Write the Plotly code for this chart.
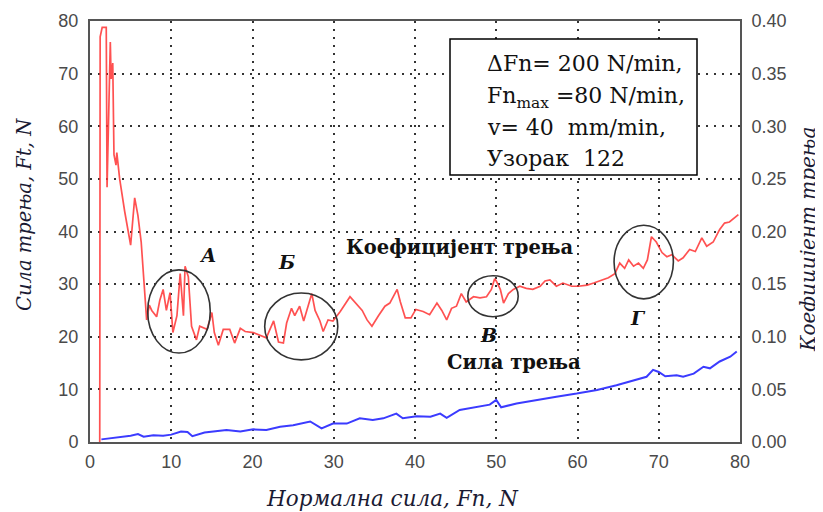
import plotly.graph_objects as go

# ---- data ----
red_x = [1.2, 1.25, 1.5, 2.0, 2.1, 2.3, 2.5, 2.6, 2.8, 2.95, 3.2, 3.3, 3.65, 4.27, 5.0, 5.5, 5.9, 6.3,
         6.7, 6.97, 7.3, 7.6, 8.2, 8.6, 9.0, 9.4, 9.85, 10.2, 10.7, 11.1, 11.5, 11.7, 12.1, 12.5, 13.1,
         13.5, 14.4, 15.0, 15.3, 15.8, 16.4, 17.2, 17.8, 18.5, 19.1, 20.1, 21.7, 22.6, 23.2, 23.8, 24.2,
         24.8, 25.2, 25.8, 26.3, 26.9, 27.3, 27.7, 28.3, 28.7, 29.3, 29.9, 30.8, 32.0, 32.6, 33.5, 34.1,
         34.7, 35.5, 36.3, 36.9, 37.3, 37.8, 38.2, 38.8, 39.5, 40.1, 41.0, 41.8, 42.7, 43.3, 43.9, 44.5,
         45.1, 45.7, 46.3, 47.2, 48.0, 48.8, 49.4, 49.8, 50.0, 50.5, 50.9, 51.5, 52.1, 52.9, 53.7, 54.5,
         55.4, 56.0, 56.6, 57.4, 58.2, 59.3, 60.1, 61.2, 62.0, 63.0, 63.8, 64.6, 65.2, 65.8, 66.3, 66.9,
         67.5, 68.1, 68.6, 69.1, 69.7, 70.4, 71.0, 71.6, 72.4, 73.0, 73.8, 74.5, 75.3, 75.9, 76.7, 77.5,
         78.1, 78.7, 79.4, 79.8]
red_coef = [0.0, 0.385, 0.394, 0.394, 0.242, 0.325, 0.380, 0.345, 0.360, 0.273, 0.263, 0.275, 0.250,
            0.219, 0.187, 0.232, 0.215, 0.190, 0.143, 0.116, 0.130, 0.125, 0.119, 0.135, 0.145, 0.125,
            0.142, 0.104, 0.120, 0.160, 0.120, 0.167, 0.157, 0.110, 0.097, 0.110, 0.107, 0.123, 0.104,
            0.092, 0.107, 0.107, 0.094, 0.108, 0.105, 0.104, 0.099, 0.115, 0.095, 0.094, 0.113, 0.127,
            0.120, 0.129, 0.115, 0.132, 0.141, 0.125, 0.115, 0.105, 0.116, 0.115, 0.124, 0.138, 0.133,
            0.125, 0.116, 0.110, 0.120, 0.129, 0.132, 0.138, 0.145, 0.133, 0.118, 0.118, 0.126, 0.124,
            0.121, 0.132, 0.125, 0.116, 0.127, 0.129, 0.141, 0.133, 0.138, 0.137, 0.138, 0.145, 0.155,
            0.153, 0.145, 0.132, 0.141, 0.145, 0.148, 0.146, 0.145, 0.148, 0.153, 0.154, 0.148, 0.151,
            0.148, 0.148, 0.149, 0.151, 0.154, 0.156, 0.160, 0.170, 0.165, 0.173, 0.167, 0.170, 0.165,
            0.173, 0.195, 0.190, 0.180, 0.176, 0.178, 0.172, 0.175, 0.183, 0.181, 0.194, 0.186, 0.190,
            0.202, 0.208, 0.209, 0.214, 0.216]

blue_x = [1.4, 2.5, 3.9, 5.0, 5.9, 6.6, 7.8, 9.0, 10.0, 11.2, 12.0, 12.6, 14.1, 15.5, 16.8, 18.5, 20.1,
          21.7, 23.4, 25.0, 27.1, 28.5, 29.9, 31.6, 33.2, 34.8, 36.1, 37.7, 38.5, 40.2, 41.9, 43.1, 43.9,
          45.5, 47.6, 49.2, 50.0, 50.6, 52.5, 54.9, 57.4, 59.9, 62.4, 64.8, 67.3, 68.5, 69.3, 70.0, 70.8,
          72.2, 73.0, 74.3, 75.5, 76.3, 77.5, 78.8, 79.6]
blue_ft = [0.5, 0.7, 0.9, 1.2, 1.5, 1.0, 1.3, 1.2, 1.4, 2.0, 1.9, 1.1, 1.8, 2.0, 2.3, 2.0, 2.4, 2.3, 2.9,
           3.2, 3.9, 2.6, 3.5, 3.5, 4.5, 4.2, 4.5, 5.4, 4.5, 4.9, 4.8, 5.4, 4.6, 6.1, 6.6, 7.1, 8.0, 6.6,
           7.3, 8.0, 8.6, 9.2, 9.9, 10.8, 11.8, 12.4, 13.7, 13.3, 12.5, 12.7, 12.4, 13.0, 14.3, 14.0, 15.3,
           16.2, 17.2]

x_ticks = [0, 10, 20, 30, 40, 50, 60, 70, 80]
y_ticks = [0, 10, 20, 30, 40, 50, 60, 70, 80]
y2_ticks = [0.0, 0.05, 0.10, 0.15, 0.20, 0.25, 0.30, 0.35, 0.40]

# annotation ellipses: (x0, x1, y0, y1) in data units (left axis)
ellipses = [(7.1, 14.8, 16.9, 32.7), (21.5, 30.5, 15.6, 28.3), (46.5, 52.7, 23.8, 31.6), (64.5, 71.8, 27.2, 41.2)]
region_labels = ["А", "Б", "В", "Г"]
region_label_pos = [(14.4, 35.5), (24.2, 34.2), (49.0, 20.3), (67.4, 23.6)]

info_lines = ["ΔFn= 200 N/min,", "Fn<sub>max</sub> =80 N/min,", "v= 40  mm/min,", "Узорак  122"]

# page body has an 8px default margin: figure is sized so the plot area lands at x 90..740, y 21..442
W, H = 815, 504
ML, MR, MT, MB = 82, 83, 13, 70
PW, PH = W - ML - MR, H - MT - MB


def px_to_paper(px, py):
    # px, py are window pixel positions
    return (px - 8 - ML) / PW, (H - MB - (py - 8)) / PH


fig = go.Figure()
fig.add_trace(go.Scatter(x=blue_x, y=blue_ft, mode="lines", line=dict(color="#3b3bff", width=2),
                         showlegend=False, yaxis="y"))
fig.add_trace(go.Scatter(x=red_x, y=red_coef, mode="lines", line=dict(color="rgba(255,50,50,0.85)", width=1.7),
                         showlegend=False, yaxis="y2"))

tickfont = dict(family="Liberation Sans, Arial", size=18, color="#4a4a4a")
grid_common = dict(showgrid=True, gridcolor="#333333", gridwidth=2, griddash="2px,6px")

shapes = []
for (x0, x1, y0, y1) in ellipses:
    shapes.append(dict(type="circle", xref="x", yref="y", x0=x0, x1=x1, y0=y0, y1=y1,
                       line=dict(color="#333333", width=1.6)))
bx0, by0 = px_to_paper(450, 175)
bx1, by1 = px_to_paper(697, 39)
shapes.append(dict(type="rect", xref="paper", yref="paper", x0=bx0, x1=bx1, y0=by0, y1=by1,
                   line=dict(color="black", width=1.5), fillcolor="white", layer="above"))

annotations = []
for lab, (lx, ly) in zip(region_labels, region_label_pos):
    annotations.append(dict(x=lx, y=ly, xref="x", yref="y", text="<b><i>%s</i></b>" % lab, showarrow=False,
                            font=dict(family="DejaVu Serif", size=19, color="#111111")))
annotations.append(dict(x=45.5, y=37.0, xref="x", yref="y", text="<b>Коефицијент трења</b>", showarrow=False,
                        font=dict(family="DejaVu Serif", size=19.5, color="#111111")))
annotations.append(dict(x=52.2, y=15.2, xref="x", yref="y", text="<b>Сила трења</b>", showarrow=False,
                        font=dict(family="DejaVu Serif", size=19.5, color="#111111")))
line_px = [63, 97, 128, 158]
for t, py in zip(info_lines, line_px):
    ax, ay = px_to_paper(485, py)
    annotations.append(dict(x=ax, y=ay, xref="paper", yref="paper", text=t, showarrow=False,
                            xanchor="left", yanchor="middle",
                            font=dict(family="DejaVu Serif", size=22, color="#111111")))

label_font = dict(family="DejaVu Serif", size=19.5, color="#1a1a33")
lx, ly = px_to_paper(24, 215)
annotations.append(dict(x=lx, y=ly, xref="paper", yref="paper", text="<i>Сила трења, Ft, N</i>",
                        textangle=-90, showarrow=False, xanchor="center", yanchor="middle", font=label_font))
rx, ry = px_to_paper(808, 240)
annotations.append(dict(x=rx, y=ry, xref="paper", yref="paper", text="<i>Коефицијент трења</i>",
                        textangle=-90, showarrow=False, xanchor="center", yanchor="middle",
                        font=dict(family="DejaVu Serif", size=20, color="#1a1a33")))
tx, ty = px_to_paper(392, 498)
annotations.append(dict(x=tx, y=ty, xref="paper", yref="paper", text="<i>Нормална сила, Fn, N</i>",
                        showarrow=False, xanchor="center", yanchor="middle",
                        font=dict(family="DejaVu Serif", size=21.5, color="#1a1a33")))

fig.update_layout(
    width=W, height=H,
    margin=dict(l=ML, r=MR, t=MT, b=MB),
    paper_bgcolor="white", plot_bgcolor="white",
    xaxis=dict(range=[0, 80], tickvals=x_ticks, showline=True, linecolor="#555555", linewidth=2, mirror=True,
               zeroline=False, tickfont=tickfont, ticks="", ticklabelstandoff=2, automargin=False,
               **grid_common),
    yaxis=dict(range=[0, 80], tickvals=y_ticks, showline=True, linecolor="#555555", linewidth=2, mirror=True,
               zeroline=False, tickfont=tickfont, ticks="", ticklabelstandoff=6, automargin=False,
               **grid_common),
    yaxis2=dict(range=[0, 0.4], tickvals=y2_ticks, tickformat=".2f", overlaying="y", side="right",
                showline=True, linecolor="#555555", linewidth=2, showgrid=False, zeroline=False,
                tickfont=tickfont, ticks="", ticklabelstandoff=6, automargin=False),
    shapes=shapes,
    annotations=annotations,
    showlegend=False,
)

fig.write_html("out.html")
